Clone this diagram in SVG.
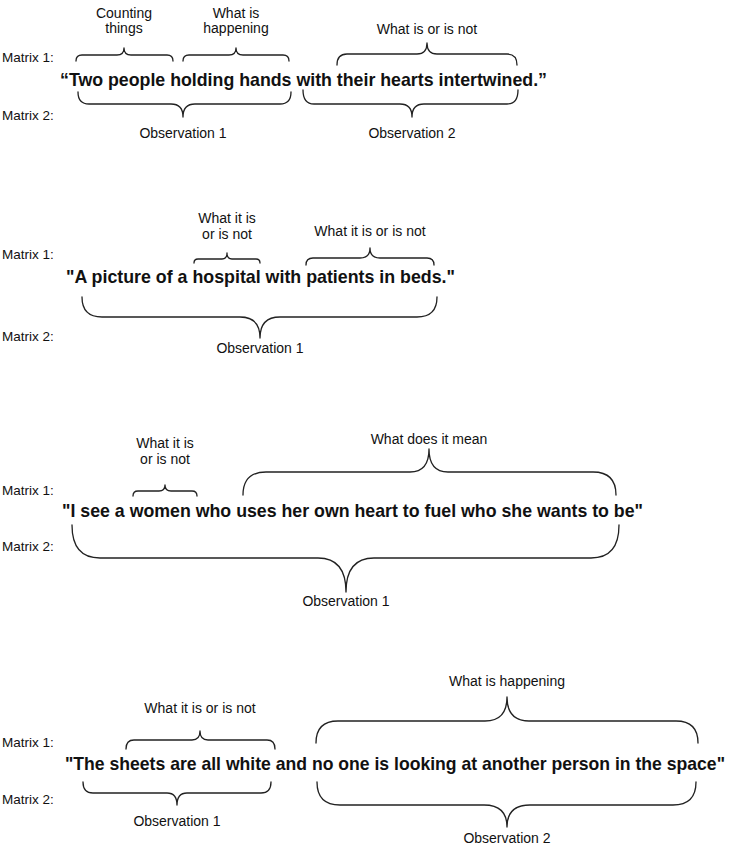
<svg xmlns="http://www.w3.org/2000/svg" width="734" height="849" viewBox="0 0 734 849">
<style>
text{font-family:"Liberation Sans",Arial,sans-serif;fill:#111}
.lab{font-size:14px;text-anchor:middle}
.mx{font-size:13.5px}
.q{font-size:17.8px;font-weight:bold}
.br{fill:none;stroke:#222;stroke-width:1.3;stroke-linejoin:round;stroke-linecap:round}
</style>
<rect width="734" height="849" fill="#fff"/>
<g id="connectors">
<path class="br" d="M76 61 Q76 55 82 55 L117 55 Q124 55 124 48 Q124 55 131 55 L167 55 Q173 55 173 61"/>
<path class="br" d="M183 61 Q183 55 189 55 L229 55 Q236 55 236 48 Q236 55 243 55 L283 55 Q289 55 289 61"/>
<path class="br" d="M337 65 Q337 54 347 54 L417 54 Q427 54 427 43 Q427 54 437 54 L507 54 Q517 54 517 65"/>
<path class="br" d="M78 92 Q78 104 89 104 L171 104 Q183 104 183 117 Q183 104 195 104 L280 104 Q291 104 291 92"/>
<path class="br" d="M303 90 Q303 104 314 104 L400 104 Q412 104 412 117 Q412 104 424 104 L507 104 Q518 104 518 90"/>
<path class="br" d="M194 263 Q194 259 198 259 L222 259 Q227 259 227 253 Q227 259 232 259 L256 259 Q260 259 260 263"/>
<path class="br" d="M306 265 Q306 258 313 258 L360 258 Q370 258 370 248 Q370 258 380 258 L427 258 Q434 258 434 265"/>
<path class="br" d="M82 297 Q82 317 102 317 L240 317 Q260 317 260 338 Q260 317 280 317 L417 317 Q437 317 437 297"/>
<path class="br" d="M133 496 Q133 491 138 491 L159 491 Q165 491 165 485 Q165 491 171 491 L192 491 Q197 491 197 496"/>
<path class="br" d="M243 495 Q243 472 266 472 L410 472 Q429 472 429 449 Q429 472 448 472 L593 472 Q616 472 616 495"/>
<path class="br" d="M72 525 Q72 558 100 558 L318 558 Q346 558 346 592 Q346 558 374 558 L591 558 Q619 558 619 525"/>
<path class="br" d="M126 749 Q126 740 134 740 L192 740 Q200 740 200 731 Q200 740 208 740 L267 740 Q275 740 275 749"/>
<path class="br" d="M316 743 Q316 721 338 721 L485 721 Q507 721 507 697 Q507 721 529 721 L676 721 Q698 721 698 743"/>
<path class="br" d="M83 782 Q83 793 93 793 L167 793 Q177 793 177 805 Q177 793 187 793 L261 793 Q271 793 271 782"/>
<path class="br" d="M317 782 Q317 805 340 805 L484 805 Q507 805 507 827 Q507 805 530 805 L673 805 Q696 805 696 782"/>
</g>
<g id="s1-matrix1"><text class="mx" x="2" y="62">Matrix 1:</text></g>
<g id="s1-matrix2"><text class="mx" x="2" y="120">Matrix 2:</text></g>
<g id="s1-quote"><text class="q" x="60" y="86" textLength="487" lengthAdjust="spacingAndGlyphs">“Two people holding hands with their hearts intertwined.”</text></g>
<g id="s1-counting"><text class="lab" x="124" y="18">Counting</text><text class="lab" x="124" y="33">things</text></g>
<g id="s1-happening"><text class="lab" x="236" y="18">What is</text><text class="lab" x="236" y="33">happening</text></g>
<g id="s1-isornot"><text class="lab" x="427" y="34">What is or is not</text></g>
<g id="s1-obs1"><text class="lab" x="183" y="138">Observation 1</text></g>
<g id="s1-obs2"><text class="lab" x="412" y="138">Observation 2</text></g>

<g id="s2-matrix1"><text class="mx" x="2" y="259">Matrix 1:</text></g>
<g id="s2-matrix2"><text class="mx" x="2" y="341">Matrix 2:</text></g>
<g id="s2-quote"><text class="q" x="66" y="283" textLength="389" lengthAdjust="spacingAndGlyphs">"A picture of a hospital with patients in beds."</text></g>
<g id="s2-itis1"><text class="lab" x="227" y="223">What it is</text><text class="lab" x="227" y="239">or is not</text></g>
<g id="s2-itis2"><text class="lab" x="370" y="236">What it is or is not</text></g>
<g id="s2-obs1"><text class="lab" x="260" y="353">Observation 1</text></g>

<g id="s3-matrix1"><text class="mx" x="2" y="495">Matrix 1:</text></g>
<g id="s3-matrix2"><text class="mx" x="2" y="551">Matrix 2:</text></g>
<g id="s3-quote"><text class="q" x="62" y="517" textLength="581" lengthAdjust="spacingAndGlyphs">"I see a women who uses her own heart to fuel who she wants to be"</text></g>
<g id="s3-itis"><text class="lab" x="165" y="448">What it is</text><text class="lab" x="165" y="464">or is not</text></g>
<g id="s3-mean"><text class="lab" x="429" y="444">What does it mean</text></g>
<g id="s3-obs1"><text class="lab" x="346" y="606">Observation 1</text></g>

<g id="s4-matrix1"><text class="mx" x="2" y="747">Matrix 1:</text></g>
<g id="s4-matrix2"><text class="mx" x="2" y="804">Matrix 2:</text></g>
<g id="s4-quote"><text class="q" x="65" y="770" textLength="660" lengthAdjust="spacingAndGlyphs">"The sheets are all white and no one is looking at another person in the space"</text></g>
<g id="s4-itis"><text class="lab" x="200" y="713">What it is or is not</text></g>
<g id="s4-happening"><text class="lab" x="507" y="686">What is happening</text></g>
<g id="s4-obs1"><text class="lab" x="177" y="826">Observation 1</text></g>
<g id="s4-obs2"><text class="lab" x="507" y="843">Observation 2</text></g>
</svg>
